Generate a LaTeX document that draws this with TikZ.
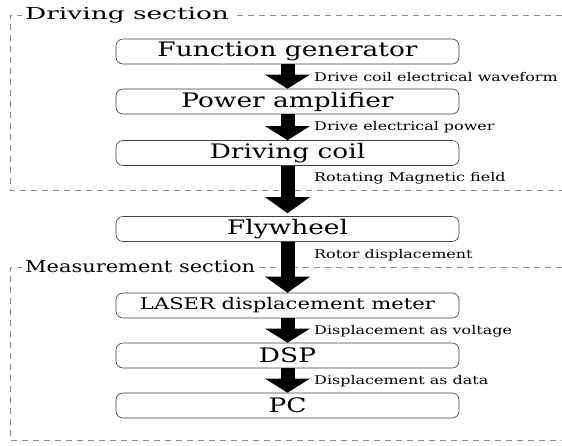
\documentclass[tikz,border=0pt]{standalone}
\usepackage{fontspec}
\setmainfont{DejaVu Serif}
\newfontfamily\boxfont{DejaVu Serif}[FakeStretch=1.32]
\newfontfamily\lblfont{DejaVu Serif}[FakeStretch=1.33]
\newfontfamily\titlefontA{DejaVu Serif}[FakeStretch=1.6]
\newfontfamily\titlefontB{DejaVu Serif}[FakeStretch=1.27]
\usetikzlibrary{arrows.meta}
\begin{document}
\begin{tikzpicture}[x=1pt,y=-1pt,
  box/.style={draw=black!75, fill=white, rounded corners=7pt, minimum width=343pt, minimum height=25pt, inner sep=0pt, font=\boxfont\fontsize{20}{22}\selectfont, line width=0.6pt},
  flow/.style={line width=14pt, -{Triangle[width=44pt,length=14pt]}},
  bigflow/.style={flow, -{Triangle[width=44pt,length=16pt]}},
  lbl/.style={anchor=west, font=\lblfont\fontsize{12}{14}\selectfont, inner sep=0pt},
  sec/.style={draw=black!45, dash pattern=on 6pt off 5pt, line width=0.8pt},
  title/.style={anchor=west, inner xsep=3pt, inner ysep=0pt, fill=white}
]
\useasboundingbox (0,0) rectangle (562,445);
% sections
\draw[sec] (562,15) -- (10,15) -- (10,190) -- (562,190);
\node[title, font=\titlefontA\fontsize{16.5}{19}\selectfont] (ds) at (22,15) {Driving section};
\draw[sec] (562,267) -- (10,267) -- (10,440) -- (562,440);
\node[title, font=\titlefontB\fontsize{16.5}{19}\selectfont] (ms) at (22,267) {Measurement section};
% boxes
\node[box] (fg)  at (287.5,51.5)  {Function generator};
\node[box] (pa)  at (287.5,101.5) {Power amplifier};
\node[box] (dc)  at (287.5,153)   {Driving coil};
\node[box] (fw)  at (287.5,229)   {Flywheel};
\node[box, font=\boxfont\fontsize{16}{18}\selectfont] (lm)  at (287.5,305.5) {LASER displacement meter};
\node[box] (dsp) at (287.5,355.5) {DSP};
\node[box] (pc)  at (287.5,405.5) {PC};
% arrows
\draw[flow] (fg.south) -- (pa.north);
\draw[flow] (pa.south) -- (dc.north);
\draw[bigflow, shorten >=3pt] (dc.south) -- (fw.north);
\draw[bigflow] (fw.south) -- (lm.north);
\draw[flow] (lm.south) -- (dsp.north);
\draw[flow] (dsp.south) -- (pc.north);
% labels
\node[lbl] (l1) at (314,77)  {Drive coil electrical waveform};
\node[lbl] (l2) at (314,127) {Drive electrical power};
\node[lbl] (l3) at (314,178) {Rotating Magnetic field};
\node[lbl] (l4) at (314,255) {Rotor displacement};
\node[lbl] (l5) at (314,331) {Displacement as voltage};
\node[lbl] (l6) at (314,381) {Displacement as data};
\end{tikzpicture}
\end{document}
